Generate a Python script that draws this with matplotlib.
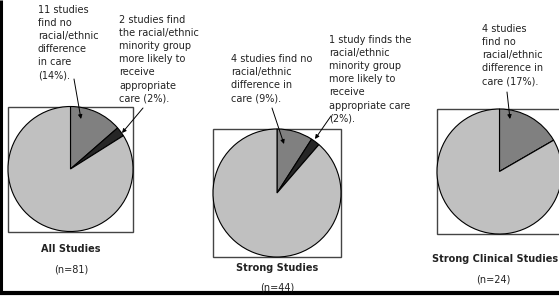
import matplotlib
matplotlib.use("Agg")
import matplotlib.pyplot as plt
from matplotlib.patches import Rectangle

# study counts per group: [no difference, minority more likely, rest]
group_titles = ["All Studies", "Strong Studies", "Strong Clinical Studies"]
group_n = [81, 44, 24]
no_diff = [11, 4, 4]
minority_better = [2, 1, 0]

notes_no_diff = [
    "11 studies\nfind no\nracial/ethnic\ndifference\nin care\n(14%).",
    "4 studies find no\nracial/ethnic\ndifference in\ncare (9%).",
    "4 studies\nfind no\nracial/ethnic\ndifference in\ncare (17%).",
]
notes_minority = [
    "2 studies find\nthe racial/ethnic\nminority group\nmore likely to\nreceive\nappropriate\ncare (2%).",
    "1 study finds the\nracial/ethnic\nminority group\nmore likely to\nreceive\nappropriate care\n(2%).",
    None,
]

slice_colors = ["#808080", "#262626", "#c0c0c0"]
text_color = "#222222"

# layout in pixel units (y grows downward)
centers = [(70.5, 169), (277, 193), (499.5, 171.5)]
radius = [62.5, 64, 62.5]
title_y = [249, 268, 259]
title_x = [71, 277, 495]
n_y = [269, 287, 279]
n_x = [71, 277, 493]
note1_xy = [(38, 5), (231, 54), (482, 24)]
note1_arrow = [((74, 79), (81, 119)), ((272, 108), (284, 144)), ((507, 92), (510, 119))]
note2_xy = [(119, 15), (329, 35), None]
note2_arrow = [((143, 108), (122, 133)), ((331, 116), (315, 139)), None]

fig = plt.figure(figsize=(5.59, 2.97), dpi=100)
ax = fig.add_axes([0, 0, 1, 1])

for i in range(3):
    rest = group_n[i] - no_diff[i] - minority_better[i]
    vals = [no_diff[i], minority_better[i], rest]
    cx, cy = centers[i]
    r = radius[i]
    ax.pie(vals, colors=slice_colors, center=(cx, cy), radius=r,
           startangle=-90, counterclock=True, frame=True,
           wedgeprops=dict(edgecolor="black", linewidth=0.8))
    ax.add_patch(Rectangle((cx - r, cy - r), 2 * r, 2 * r, fill=False,
                           edgecolor="#444444", linewidth=1.0, zorder=0.5))

    ax.text(title_x[i], title_y[i], group_titles[i], ha="center", va="center",
            fontsize=7, fontweight="bold", color=text_color)
    ax.text(n_x[i], n_y[i], f"(n={group_n[i]})", ha="center", va="center",
            fontsize=7, color=text_color)

    ax.text(note1_xy[i][0], note1_xy[i][1], notes_no_diff[i], ha="left", va="top",
            fontsize=7, color=text_color, linespacing=1.39)
    start, end = note1_arrow[i]
    ax.annotate("", xy=end, xytext=start,
                arrowprops=dict(arrowstyle="-|>", color="black", lw=0.7,
                                mutation_scale=6, shrinkA=0, shrinkB=0))

    if notes_minority[i]:
        ax.text(note2_xy[i][0], note2_xy[i][1], notes_minority[i], ha="left", va="top",
                fontsize=7, color=text_color, linespacing=1.39)
        start, end = note2_arrow[i]
        ax.annotate("", xy=end, xytext=start,
                    arrowprops=dict(arrowstyle="-|>", color="black", lw=0.7,
                                    mutation_scale=6, shrinkA=0, shrinkB=0))

# outer frame (left and bottom edges visible)
ax.plot([1.2, 1.2], [0, 293], color="black", lw=2.2, solid_capstyle="butt")
ax.plot([0, 559], [293, 293], color="black", lw=3.0, solid_capstyle="butt")

ax.set_xlim(0, 559)
ax.set_ylim(297, 0)
ax.set_aspect("auto")
ax.axis("off")

fig.savefig("out.png", dpi=100)
